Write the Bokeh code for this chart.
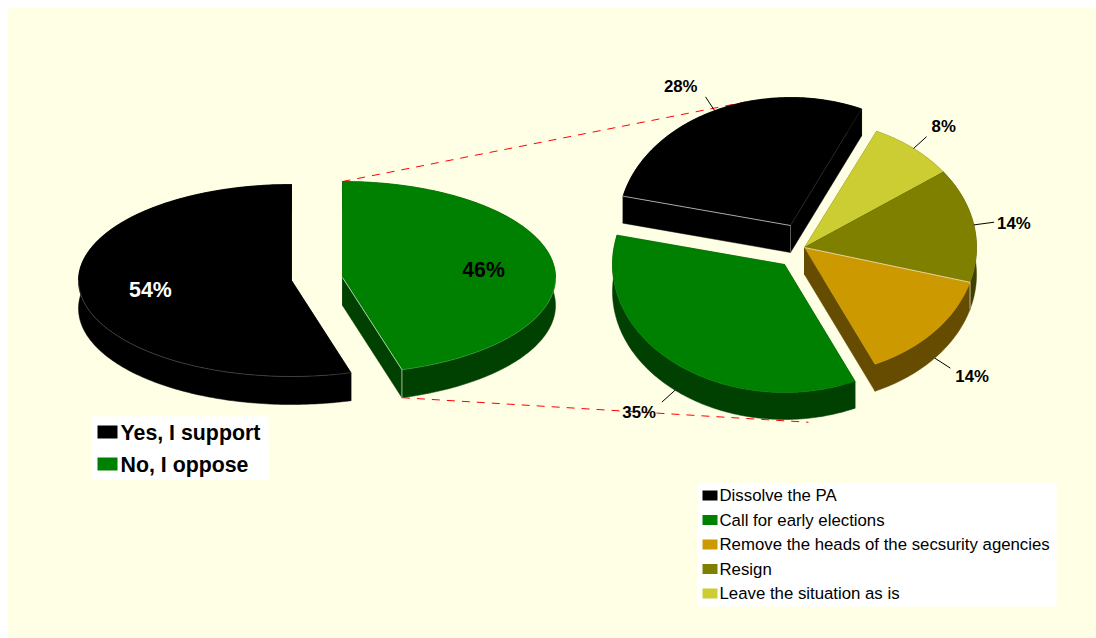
import math
from bokeh.core.properties import value
from bokeh.embed import file_html
from bokeh.models import Range1d
from bokeh.plotting import figure
from bokeh.resources import INLINE

# ---- data ----
main_labels = ["Yes, I support", "No, I oppose"]
main_values = [54.5, 45.5]
main_text = ["54%", "46%"]
main_colors = ["#000000", "#008000"]
main_sides = ["#000000", "#004000"]

sub_labels = ["Dissolve the PA", "Call for early elections",
              "Remove the heads of the secsurity agencies", "Resign",
              "Leave the situation as is"]
sub_values = [28.1, 35.4, 13.9, 14.4, 8.1]
sub_text = ["28%", "35%", "14%", "14%", "8%"]
sub_colors = ["#000000", "#008000", "#CC9900", "#808000", "#CCCC33"]
sub_sides = ["#000000", "#004000", "#664C00", "#404000", "#666619"]

# ---- layout ----
BG = "#FFFFE6"
FONT = value("Liberation Sans")
W, H = 1096, 638
LEFT, TOP = 7, 7
RX_L, RY_L, DEPTH_L = 213, 96, 28
RX_R, RY_R, DEPTH_R = 172, 128, 27
PIE_R = (804, 247)
SUB_SHIFT = [(-14, -22), (-20, 17), (0, 0), (0, 0), (0, 0)]
SUB_START = 24.4
DRAW_ORDER = [0, 4, 3, 2, 1]
# label offset from end of leader: (dx, dy, align)
SUB_LABEL = [(-8, -10, "right"), (-6, 10, "right"), (5, 8, "left"), (3, 1, "left"), (5, -10, "left")]
MAIN_LABEL_DY = [0.5, 2]
# legends: box (x0, y0, x1, y1), swatch (x, width, height), text x, first row centre, row step, text shift, font size
LEG_MAIN = dict(box=(91, 416, 268, 479), sw=(97, 20, 13), tx=120, y0=431.5, dy=32, ty=1, size="21.33px", style="bold")
LEG_SUB = dict(box=(697, 483, 1056, 606), sw=(702, 15, 10), tx=719, y0=495, dy=24.5, ty=0, size="16.8px", style="normal")


def pt(c, rx, ry, a):
    r = math.radians(a)
    return c[0] + rx * math.sin(r), c[1] - ry * math.cos(r)


def arc(c, rx, ry, a0, a1):
    n = max(2, int(abs(a1 - a0)) + 1)
    return [pt(c, rx, ry, a0 + (a1 - a0) * i / (n - 1)) for i in range(n)]


p = figure(width=W, height=H, output_backend="svg", toolbar_location=None,
           x_range=Range1d(LEFT, W), y_range=Range1d(H, TOP),
           x_axis_type=None, y_axis_type=None,
           min_border_left=LEFT, min_border_top=TOP, min_border_right=0, min_border_bottom=0,
           background_fill_color=BG, border_fill_color="#FFFFFF", outline_line_color=None)
p.grid.visible = False


def angles(values, start):
    out, a = [], start
    for v in values:
        out.append((a - v * 3.6, a))   # counter-clockwise from the start angle
        a -= v * 3.6
    return out


main_ang = angles(main_values, 0.0)
main_centers = [(291, 280), (342, 277)]
sub_ang = angles(sub_values, SUB_START)
sub_centers = [(PIE_R[0] + s[0], PIE_R[1] + s[1]) for s in SUB_SHIFT]

# ---- connector lines ----
gc = main_centers[1]
ge = pt(gc, RX_L, RY_L, main_ang[1][1])
gt = pt(gc, RX_L, RY_L, main_ang[1][0])
conn_a = pt(sub_centers[0], RX_R, RY_R, -15)
conn_b = pt(sub_centers[1], RX_R, RY_R, 172)
p.line([gt[0], conn_a[0]], [gt[1], conn_a[1]], line_color="#FF0000", line_width=1, line_dash="8 7")


def draw(c, rx, ry, depth, a0, a1, top_col, side_col):
    rim = arc(c, rx, ry, a0, a1)
    top = [c] + rim
    polys = [
        rim + [(q[0], q[1] + depth) for q in reversed(rim)],
        [c, rim[0], (rim[0][0], rim[0][1] + depth), (c[0], c[1] + depth)],
        [c, rim[-1], (rim[-1][0], rim[-1][1] + depth), (c[0], c[1] + depth)],
    ]
    p.patches([[q[0] for q in s] for s in polys], [[q[1] for q in s] for s in polys],
              fill_color=side_col, line_color=side_col, line_width=0.5)
    p.patches([[q[0] for q in top]], [[q[1] for q in top]],
              fill_color=top_col, line_color=top_col, line_width=0.5)


for i in range(2):
    draw(main_centers[i], RX_L, RY_L, DEPTH_L, *main_ang[i], main_colors[i], main_sides[i])
for i in DRAW_ORDER:
    draw(sub_centers[i], RX_R, RY_R, DEPTH_R, *sub_ang[i], sub_colors[i], sub_sides[i])

p.line([ge[0], conn_b[0]], [ge[1] + DEPTH_L, conn_b[1] + DEPTH_R + 4], line_color="#FF0000",
       line_width=1, line_dash="8 7")

# ---- thin highlights on the 3-D edges ----
hl_x, hl_y, hl_a = [], [], []


def hl(pts, alpha=0.8):
    hl_x.append([q[0] for q in pts])
    hl_y.append([q[1] for q in pts])
    hl_a.append(alpha)


hl([gc, ge])
hl([ge, (ge[0], ge[1] + DEPTH_L)])
hl(arc(gc, RX_L, RY_L, main_ang[1][1], -270), alpha=0.2)
hl(arc(main_centers[0], RX_L, RY_L, -90, main_ang[0][0]), alpha=0.25)
dc = sub_centers[0]
dl = pt(dc, RX_R, RY_R, sub_ang[0][0])
dr = pt(dc, RX_R, RY_R, sub_ang[0][1])
hl([dl, dc])
hl([dc, (dc[0], dc[1] + DEPTH_R)], alpha=0.4)
hl([dc, dr], alpha=0.12)
rc = sub_centers[2]
re_ = pt(rc, RX_R, RY_R, sub_ang[2][0])
hl([rc, re_])
hl([re_, (re_[0], re_[1] + DEPTH_R)])
p.multi_line(hl_x, hl_y, line_color="#FFFFFF", line_alpha=hl_a, line_width=0.8)

# ---- leader lines and labels of the right pie ----
lx, ly = [], []
for i in range(5):
    a0, a1 = sub_ang[i]
    mid = (a0 + a1) / 2
    c = sub_centers[i]
    d = DEPTH_R if math.cos(math.radians(mid)) < 0 else 0
    s = pt(c, RX_R, RY_R, mid)
    e = pt(c, RX_R * 1.12, RY_R * 1.12, mid)
    lx.append([s[0], e[0]])
    ly.append([s[1] + d, e[1] + d])
    dx, dy, al = SUB_LABEL[i]
    p.text([e[0] + dx], [e[1] + d + dy], text=[sub_text[i]], text_font=FONT,
           text_font_style="bold", text_font_size="16.8px", text_align=al,
           text_baseline="middle", text_color="#000000")
p.multi_line(lx, ly, line_color="#000000", line_width=1)

# ---- labels of the left pie ----
main_text_colors = ["#FFFFFF", "#000000"]
for i in range(2):
    a0, a1 = main_ang[i]
    q = pt(main_centers[i], RX_L * 0.669, RY_L * 0.669, (a0 + a1) / 2)
    p.text([q[0]], [q[1] + MAIN_LABEL_DY[i]], text=[main_text[i]], text_font=FONT,
           text_font_style="bold", text_font_size="21.33px", text_align="center",
           text_baseline="middle", text_color=main_text_colors[i])


# ---- legends ----
def legend(spec, labels, colors):
    x0, y0, x1, y1 = spec["box"]
    p.quad(left=[x0], right=[x1], top=[y0], bottom=[y1], fill_color="#FFFFFF", line_color=None)
    sx, sw, sh = spec["sw"]
    ys = [spec["y0"] + k * spec["dy"] for k in range(len(labels))]
    p.quad(left=[sx] * len(ys), right=[sx + sw] * len(ys),
           top=[y - sh / 2 for y in ys], bottom=[y + sh / 2 for y in ys],
           fill_color=colors, line_color=None)
    p.text([spec["tx"]] * len(ys), [y + spec["ty"] for y in ys], text=labels, text_font=FONT,
           text_font_size=spec["size"], text_font_style=spec["style"],
           text_baseline="middle", text_color="#000000")


legend(LEG_MAIN, main_labels, main_colors)
legend(LEG_SUB, sub_labels, sub_colors)

open("out.html", "w").write(file_html(p, INLINE))
